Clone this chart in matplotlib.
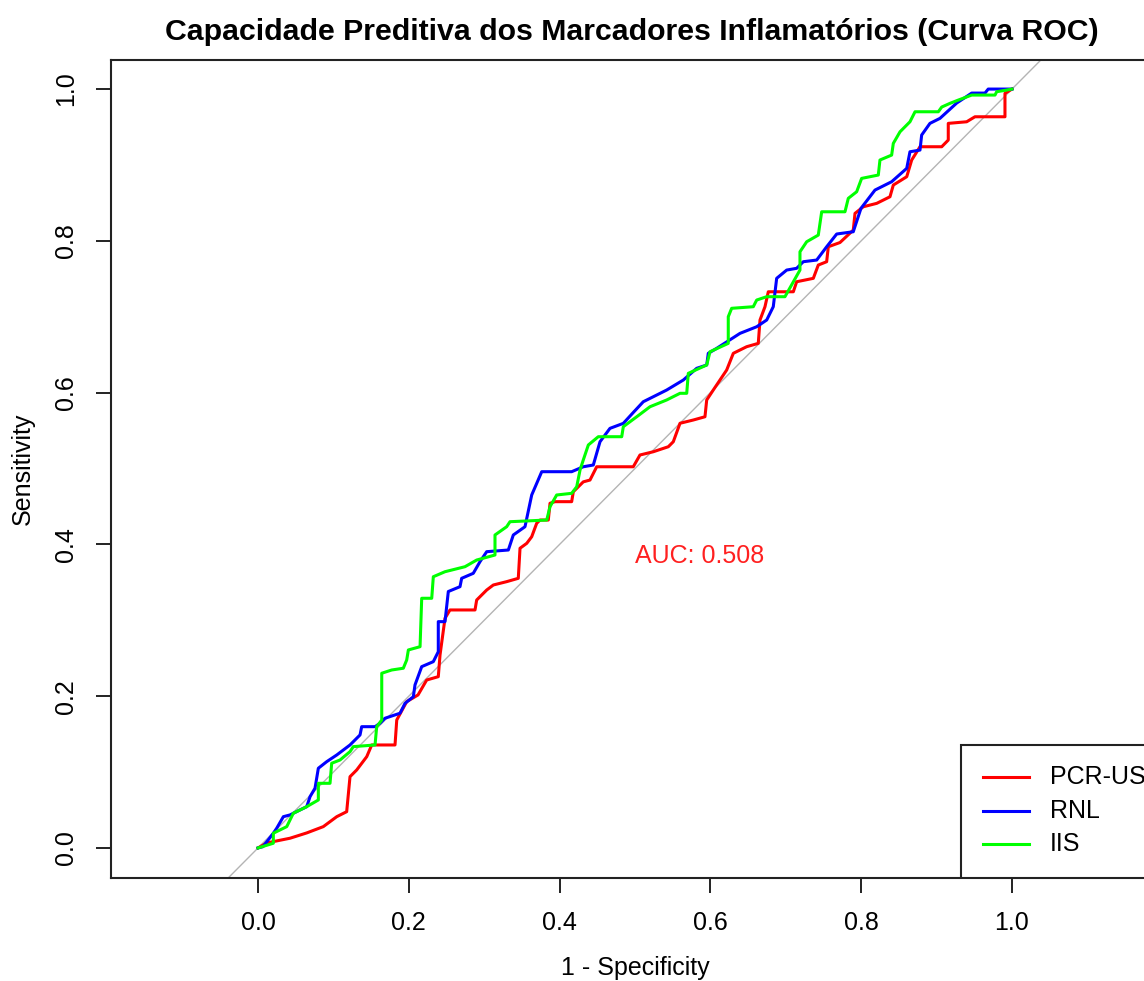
import matplotlib
matplotlib.use("Agg")
import matplotlib.pyplot as plt
from matplotlib.patches import Rectangle

plt.rcParams['font.family'] = ['Liberation Sans', 'DejaVu Sans']

# ROC curves: x = 1 - specificity, y = sensitivity
pcr_fpr = [0.000, 0.0115, 0.0424, 0.0646, 0.0866, 0.1044, 0.1176, 0.1220, 0.1309, 0.1442, 0.1508, 0.1817,
           0.1840, 0.1972, 0.2122, 0.2237, 0.2391, 0.2414, 0.2480, 0.2546, 0.2878, 0.2900,
           0.3033, 0.3121, 0.3298, 0.3452, 0.3475, 0.3564, 0.3630, 0.3696, 0.3740, 0.3850,
           0.3873, 0.3939, 0.4160, 0.4182, 0.4314, 0.4403, 0.4492, 0.4977, 0.5066, 0.5243,
           0.5442, 0.5508, 0.5597, 0.5773, 0.5928, 0.5951, 0.6038, 0.6216, 0.6304, 0.6481,
           0.6635, 0.6658, 0.6724, 0.6768, 0.7100, 0.7144, 0.7365, 0.7431, 0.7542, 0.7564,
           0.7719, 0.7895, 0.7918, 0.8028, 0.8206, 0.8382, 0.8426, 0.8604, 0.8670, 0.8780,
           0.9068, 0.9155, 0.9155, 0.9399, 0.9509, 0.9907, 0.9907, 1.000]
pcr_tpr = [0.000, 0.0066, 0.0128, 0.0198, 0.0281, 0.0412, 0.0478, 0.0939, 0.1028, 0.1203, 0.1357, 0.1357,
           0.1686, 0.1928, 0.2016, 0.2213, 0.2257, 0.2543, 0.3026, 0.3136, 0.3136, 0.3267,
           0.3399, 0.3465, 0.3509, 0.3553, 0.3949, 0.4014, 0.4101, 0.4278, 0.4321, 0.4321,
           0.4542, 0.4563, 0.4563, 0.4694, 0.4824, 0.4848, 0.5023, 0.5023, 0.5178, 0.5221,
           0.5287, 0.5353, 0.5596, 0.5639, 0.5682, 0.5903, 0.6034, 0.6298, 0.6518, 0.6605,
           0.6649, 0.6957, 0.7132, 0.7329, 0.7329, 0.7461, 0.7506, 0.7681, 0.7725, 0.7922,
           0.7978, 0.8142, 0.8362, 0.8449, 0.8494, 0.8581, 0.8735, 0.8845, 0.9065, 0.9240,
           0.9240, 0.9328, 0.9548, 0.9569, 0.9635, 0.9635, 0.9943, 1.000]

rnl_fpr = [0.000, 0.0066, 0.0203, 0.0248, 0.0336, 0.0424, 0.0557, 0.0646, 0.0690, 0.0756,
           0.0800, 0.0911, 0.1044, 0.1220, 0.1353, 0.1375, 0.1552, 0.1618, 0.1684, 0.1883,
           0.1950, 0.2060, 0.2082, 0.2171, 0.2325, 0.2391, 0.2391, 0.2480, 0.2524, 0.2679,
           0.2701, 0.2855, 0.2944, 0.3033, 0.3320, 0.3386, 0.3541, 0.3630, 0.3763, 0.4160,
           0.4314, 0.4447, 0.4536, 0.4668, 0.4845, 0.4977, 0.5110, 0.5420, 0.5641, 0.5818,
           0.5951, 0.5972, 0.6083, 0.6393, 0.6614, 0.6747, 0.6834, 0.6879, 0.7012, 0.7144,
           0.7232, 0.7410, 0.7542, 0.7675, 0.7895, 0.7997, 0.8183, 0.8404, 0.8604, 0.8647,
           0.8780, 0.8802, 0.8912, 0.9045, 0.9267, 0.9466, 0.9642, 0.9685, 1.000]
rnl_tpr = [0.000, 0.0017, 0.0194, 0.0260, 0.0412, 0.0435, 0.0501, 0.0544, 0.0676, 0.0787,
           0.1050, 0.1137, 0.1225, 0.1357, 0.1489, 0.1598, 0.1598, 0.1643, 0.1709, 0.1775,
           0.1906, 0.1993, 0.2148, 0.2389, 0.2455, 0.2586, 0.2982, 0.2982, 0.3379, 0.3443,
           0.3553, 0.3619, 0.3772, 0.3904, 0.3926, 0.4124, 0.4233, 0.4651, 0.4958, 0.4958,
           0.5023, 0.5046, 0.5353, 0.5529, 0.5595, 0.5738, 0.5880, 0.6034, 0.6166, 0.6320,
           0.6364, 0.6518, 0.6583, 0.6781, 0.6868, 0.6957, 0.7132, 0.7506, 0.7615, 0.7638,
           0.7725, 0.7747, 0.7922, 0.8090, 0.8120, 0.8428, 0.8669, 0.8779, 0.8955, 0.9174,
           0.9196, 0.9394, 0.9548, 0.9614, 0.9816, 0.9947, 0.9947, 1.000, 1.000]

iis_fpr = [0.000, 0.0203, 0.0203, 0.0381, 0.0468, 0.0646, 0.0800, 0.0800, 0.0955, 0.0977,
           0.1088, 0.1220, 0.1264, 0.1552, 0.1574, 0.1641, 0.1641, 0.1773, 0.1927, 0.1972,
           0.1994, 0.2149, 0.2171, 0.2304, 0.2325, 0.2480, 0.2745, 0.2900, 0.3143, 0.3143,
           0.3298, 0.3342, 0.3829, 0.3873, 0.3961, 0.4160, 0.4227, 0.4271, 0.4314, 0.4381,
           0.4513, 0.4824, 0.4845, 0.5023, 0.5199, 0.5420, 0.5597, 0.5686, 0.5707, 0.5951,
           0.5995, 0.6237, 0.6237, 0.6282, 0.6569, 0.6614, 0.6747, 0.6989, 0.7188, 0.7188,
           0.7277, 0.7431, 0.7476, 0.7785, 0.7829, 0.7940, 0.8006, 0.8227, 0.8249, 0.8404,
           0.8426, 0.8515, 0.8647, 0.8714, 0.9023, 0.9068, 0.9178, 0.9288, 0.9466, 0.9775,
           0.9797, 0.9930, 1.000]
iis_tpr = [0.000, 0.0062, 0.0194, 0.0281, 0.0457, 0.0544, 0.0632, 0.0852, 0.0852, 0.1116,
           0.1159, 0.1269, 0.1335, 0.1357, 0.1598, 0.1686, 0.2302, 0.2345, 0.2368, 0.2477,
           0.2609, 0.2652, 0.3290, 0.3290, 0.3574, 0.3640, 0.3706, 0.3794, 0.3860, 0.4124,
           0.4233, 0.4299, 0.4321, 0.4497, 0.4651, 0.4673, 0.4760, 0.4980, 0.5112, 0.5310,
           0.5419, 0.5419, 0.5551, 0.5682, 0.5814, 0.5903, 0.5991, 0.5991, 0.6254, 0.6364,
           0.6539, 0.6649, 0.7000, 0.7111, 0.7132, 0.7220, 0.7264, 0.7264, 0.7615, 0.7856,
           0.7988, 0.8076, 0.8383, 0.8383, 0.8560, 0.8647, 0.8823, 0.8867, 0.9065, 0.9130,
           0.9284, 0.9437, 0.9569, 0.9701, 0.9701, 0.9763, 0.9812, 0.9855, 0.9921, 0.9921,
           0.9965, 0.9987, 1.000]

labels = ['PCR-US', 'RNL', 'IIS']
colors = ['#FF0000', '#0000FF', '#00FF00']
ticks = [0.0, 0.2, 0.4, 0.6, 0.8, 1.0]
tick_labels = ['0.0', '0.2', '0.4', '0.6', '0.8', '1.0']
auc_text = 'AUC: 0.508'

fig = plt.figure(figsize=(11.44, 9.81), dpi=100)
# axes run past the right edge, like the cropped original
ax = fig.add_axes([111/1144, 103/981, 1048/1144, 818/981])
ax.set_xlim(-0.195, 1.195)
ax.set_ylim(-0.0396, 1.0383)

ax.axline((0, 0), (1, 1), color='#b4b4b4', lw=1, zorder=1)
curves = [(pcr_fpr, pcr_tpr), (rnl_fpr, rnl_tpr), (iis_fpr, iis_tpr)]
for (fx, ty), c in zip(curves, colors):
    ax.plot(fx, ty, color=c, lw=2.2, zorder=2)

ax.text(0.5, 0.385, auc_text, color='#FF2020', fontsize=18, ha='left', va='center')

ax.set_xticks(ticks)
ax.set_xticklabels(tick_labels)
ax.set_yticks(ticks)
ax.set_yticklabels(tick_labels, rotation=90, va='center')
ax.tick_params(axis='both', direction='out', length=10.5, width=1.4, labelsize=18,
               color='#222222', pad=13)
for s in ax.spines.values():
    s.set_linewidth(1.5)
    s.set_color('#222222')

# legend in the bottom right corner, drawn by hand like R's legend()
ax.add_patch(Rectangle((0.811, 0.0), 0.189, 0.1626, transform=ax.transAxes,
                       facecolor='white', edgecolor='#222222', lw=1.5, zorder=5))
for i, (lab, c) in enumerate(zip(labels, colors)):
    yy = 0.1235 - i * 0.0410
    ax.plot([0.832, 0.876], [yy, yy], transform=ax.transAxes, color=c, lw=2.2, zorder=6)
    ax.text(0.896, yy, lab, transform=ax.transAxes, fontsize=18, va='center', ha='left',
            zorder=6)

fig.text(632/1144, (981-32)/981, 'Capacidade Preditiva dos Marcadores Inflamatórios (Curva ROC)',
         fontsize=21.8, fontweight='bold', ha='center', va='center')
fig.text(635/1144, (981-968)/981, '1 - Specificity', fontsize=18, ha='center', va='center')
fig.text(23/1144, (981-469)/981, 'Sensitivity', fontsize=18, rotation=90, ha='center', va='center')

fig.savefig('out.png', dpi=100)
